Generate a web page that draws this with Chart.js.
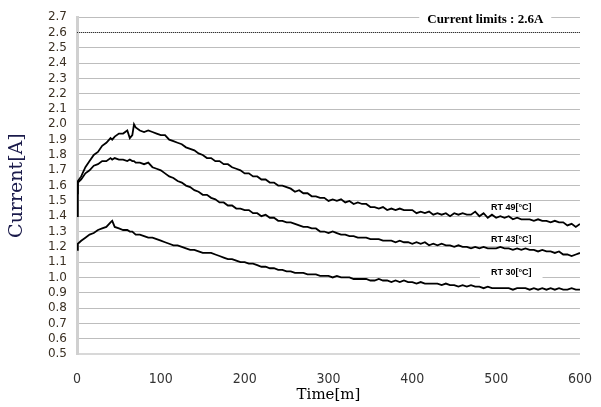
<!DOCTYPE html>
<html>
<head>
<meta charset="utf-8">
<script src="https://cdn.jsdelivr.net/npm/chart.js@4"></script>
<style>
  html, body { margin: 0; padding: 0; background: #fff; }
  #wrap { width: 601px; height: 407px; }
</style>
</head>
<body>
<div id="wrap"><canvas id="currentChart" width="601" height="407"></canvas></div>
<script>
// Time axis in minutes (shared by all three series)
const timeMin = [
    0, 1, 5, 10, 15, 20, 25, 30, 35, 40,
    42, 45, 50, 55, 60, 63, 66, 68, 70, 75,
    80, 85, 90, 95, 100, 105, 110, 115, 120, 125,
    130, 135, 140, 145, 150, 155, 160, 165, 170, 175,
    180, 185, 190, 195, 200, 205, 210, 215, 220, 225,
    230, 235, 240, 245, 250, 255, 260, 265, 270, 275,
    280, 285, 290, 295, 300, 305, 310, 315, 320, 325,
    330, 335, 340, 345, 350, 355, 360, 365, 370, 375,
    380, 385, 390, 395, 400, 405, 410, 415, 420, 425,
    430, 435, 440, 445, 450, 455, 460, 465, 470, 475,
    480, 485, 490, 495, 500, 505, 510, 515, 520, 525,
    530, 535, 540, 545, 550, 555, 560, 565, 570, 575,
    580, 585, 590, 595, 600
];

// Current [A] for each room temperature
const rt49 = [
    1.40, 1.63, 1.66, 1.72, 1.76, 1.80, 1.82, 1.86, 1.88, 1.91,
    1.90, 1.92, 1.94, 1.94, 1.96, 1.91, 1.93, 2.00, 1.98, 1.96,
    1.95, 1.96, 1.95, 1.94, 1.93, 1.93, 1.90, 1.89, 1.88, 1.87,
    1.85, 1.84, 1.83, 1.81, 1.80, 1.78, 1.78, 1.76, 1.76, 1.74,
    1.74, 1.72, 1.71, 1.70, 1.68, 1.68, 1.66, 1.66, 1.64, 1.64,
    1.62, 1.62, 1.60, 1.60, 1.59, 1.58, 1.56, 1.57, 1.55, 1.55,
    1.53, 1.53, 1.52, 1.52, 1.50, 1.51, 1.50, 1.51, 1.49, 1.50,
    1.48, 1.49, 1.48, 1.48, 1.46, 1.46, 1.45, 1.46, 1.44, 1.45,
    1.44, 1.45, 1.44, 1.44, 1.44, 1.42, 1.43, 1.42, 1.43, 1.41,
    1.42, 1.41, 1.42, 1.40, 1.42, 1.41, 1.42, 1.41, 1.41, 1.43,
    1.40, 1.42, 1.39, 1.41, 1.39, 1.40, 1.39, 1.40, 1.38, 1.39,
    1.38, 1.38, 1.38, 1.37, 1.38, 1.37, 1.37, 1.36, 1.37, 1.36,
    1.36, 1.34, 1.35, 1.33, 1.35
];

const rt43 = [
    1.55, 1.62, 1.64, 1.68, 1.70, 1.73, 1.74, 1.76, 1.76, 1.78,
    1.77, 1.78, 1.77, 1.77, 1.76, 1.77, 1.76, 1.76, 1.75, 1.75,
    1.74, 1.75, 1.72, 1.71, 1.70, 1.68, 1.66, 1.65, 1.63, 1.62,
    1.60, 1.59, 1.57, 1.56, 1.54, 1.54, 1.52, 1.51, 1.49, 1.49,
    1.47, 1.47, 1.45, 1.45, 1.44, 1.44, 1.42, 1.42, 1.40, 1.41,
    1.39, 1.39, 1.37, 1.37, 1.36, 1.36, 1.35, 1.34, 1.33, 1.33,
    1.32, 1.32, 1.30, 1.30, 1.29, 1.30, 1.29, 1.28, 1.28, 1.27,
    1.27, 1.26, 1.26, 1.26, 1.25, 1.25, 1.25, 1.24, 1.24, 1.24,
    1.23, 1.24, 1.23, 1.23, 1.22, 1.23, 1.22, 1.23, 1.21, 1.22,
    1.21, 1.22, 1.21, 1.21, 1.20, 1.21, 1.20, 1.20, 1.19, 1.20,
    1.19, 1.20, 1.19, 1.19, 1.19, 1.20, 1.19, 1.19, 1.18, 1.19,
    1.18, 1.19, 1.18, 1.18, 1.17, 1.18, 1.17, 1.17, 1.16, 1.17,
    1.15, 1.15, 1.14, 1.15, 1.16
];

const rt30 = [
    1.18, 1.22, 1.24, 1.26, 1.28, 1.29, 1.31, 1.32, 1.33, 1.36,
    1.37, 1.33, 1.32, 1.31, 1.31, 1.30, 1.30, 1.29, 1.28, 1.28,
    1.27, 1.26, 1.26, 1.25, 1.24, 1.23, 1.22, 1.21, 1.21, 1.20,
    1.19, 1.18, 1.18, 1.17, 1.16, 1.16, 1.16, 1.15, 1.14, 1.13,
    1.12, 1.12, 1.11, 1.10, 1.10, 1.09, 1.09, 1.08, 1.07, 1.07,
    1.06, 1.06, 1.05, 1.05, 1.04, 1.04, 1.03, 1.03, 1.03, 1.02,
    1.02, 1.02, 1.01, 1.01, 1.01, 1.00, 1.01, 1.00, 1.00, 1.00,
    0.99, 0.99, 0.99, 0.99, 0.98, 0.98, 0.99, 0.98, 0.98, 0.97,
    0.98, 0.97, 0.98, 0.97, 0.97, 0.96, 0.97, 0.96, 0.96, 0.96,
    0.96, 0.95, 0.96, 0.95, 0.95, 0.94, 0.95, 0.94, 0.95, 0.94,
    0.94, 0.93, 0.94, 0.93, 0.93, 0.93, 0.93, 0.93, 0.92, 0.93,
    0.93, 0.93, 0.92, 0.93, 0.92, 0.93, 0.92, 0.93, 0.92, 0.93,
    0.92, 0.92, 0.93, 0.92, 0.92
];

// Current limit line
const limitTime = [0, 600];
const limitValue = [2.6, 2.6];

const seriesNames = ['RT 49[°C]', 'RT 43[°C]', 'RT 30[°C]'];
const limitLabel = 'Current limits : 2.6A';

const toPoints = (xs, ys) => xs.map((x, i) => ({ x: x, y: ys[i] }));

// Text labels placed in data coordinates
const textLabels = [
    { text: limitLabel, x: 487, y: 2.687, font: 'bold 13px "Liberation Serif"', pad: 8, h: 12 },
    { text: seriesNames[0], x: 518, y: 1.46, font: 'bold 9px "Liberation Sans"', pad: 10, h: 10 },
    { text: seriesNames[1], x: 518, y: 1.25, font: 'bold 9px "Liberation Sans"', pad: 10, h: 10 },
    { text: seriesNames[2], x: 518, y: 1.03, font: 'bold 9px "Liberation Sans"', pad: 11, h: 12 }
];

const labelPlugin = {
    id: 'labelPlugin',
    afterDatasetsDraw(chart) {
        const c = chart.ctx;
        const xs = chart.scales.x, ys = chart.scales.y;
        c.save();
        textLabels.forEach(l => {
            const px = xs.getPixelForValue(l.x);
            const py = ys.getPixelForValue(l.y);
            c.font = l.font;
            const w = c.measureText(l.text).width;
            c.fillStyle = '#fff';
            c.fillRect(px - w / 2 - l.pad, py - l.h / 2, w + l.pad * 2, l.h);
            c.fillStyle = '#000';
            c.textAlign = 'center';
            c.textBaseline = 'middle';
            c.fillText(l.text, px, py);
        });
        c.restore();
    }
};

const lineStyle = {
    borderColor: '#000',
    borderWidth: 1.8,
    pointRadius: 0,
    tension: 0,
    fill: false
};

const ctx = document.getElementById('currentChart').getContext('2d');

new Chart(ctx, {
    type: 'line',
    data: {
        datasets: [
            Object.assign({ label: seriesNames[0], data: toPoints(timeMin, rt49) }, lineStyle),
            Object.assign({ label: seriesNames[1], data: toPoints(timeMin, rt43) }, lineStyle),
            Object.assign({ label: seriesNames[2], data: toPoints(timeMin, rt30) }, lineStyle),
            {
                label: limitLabel,
                data: toPoints(limitTime, limitValue),
                borderColor: '#333',
                borderWidth: 1,
                borderDash: [1, 1],
                pointRadius: 0,
                fill: false
            }
        ]
    },
    options: {
        responsive: false,
        animation: false,
        layout: { padding: { top: 15, right: 20, bottom: 0, left: 0 } },
        plugins: {
            legend: { display: false },
            tooltip: { enabled: false }
        },
        scales: {
            x: {
                type: 'linear',
                min: 0,
                max: 600,
                ticks: {
                    stepSize: 100,
                    padding: 9,
                    color: '#333',
                    font: { family: '"DejaVu Sans Condensed", "Liberation Sans Narrow", "Liberation Sans", sans-serif', size: 14 }
                },
                grid: { display: false },
                border: { display: true, color: '#d8d8d8', width: 2 },
                title: {
                    display: true,
                    text: 'Time[m]',
                    color: '#000',
                    font: { family: '"DejaVu Serif", serif', size: 15 },
                    padding: { top: 0, bottom: 3 }
                },
                afterFit(scale) { scale.height = 53; }
            },
            y: {
                min: 0.5,
                max: 2.7,
                ticks: {
                    stepSize: 0.1,
                    autoSkip: false,
                    padding: 10,
                    color: '#3b3023',
                    font: { family: '"DejaVu Sans", sans-serif', size: 12 },
                    callback: v => v.toFixed(1)
                },
                grid: { color: '#bdbdbd', lineWidth: 1, drawTicks: false },
                border: { color: '#d0d0d0', width: 3 },
                title: {
                    display: true,
                    text: 'Current[A]',
                    color: '#1a1a4a',
                    font: { family: '"DejaVu Serif", serif', size: 19 },
                    padding: { top: 6, bottom: 0 }
                },
                afterFit(scale) { scale.width = 77; }
            }
        }
    },
    plugins: [labelPlugin]
});
</script>
</body>
</html>
